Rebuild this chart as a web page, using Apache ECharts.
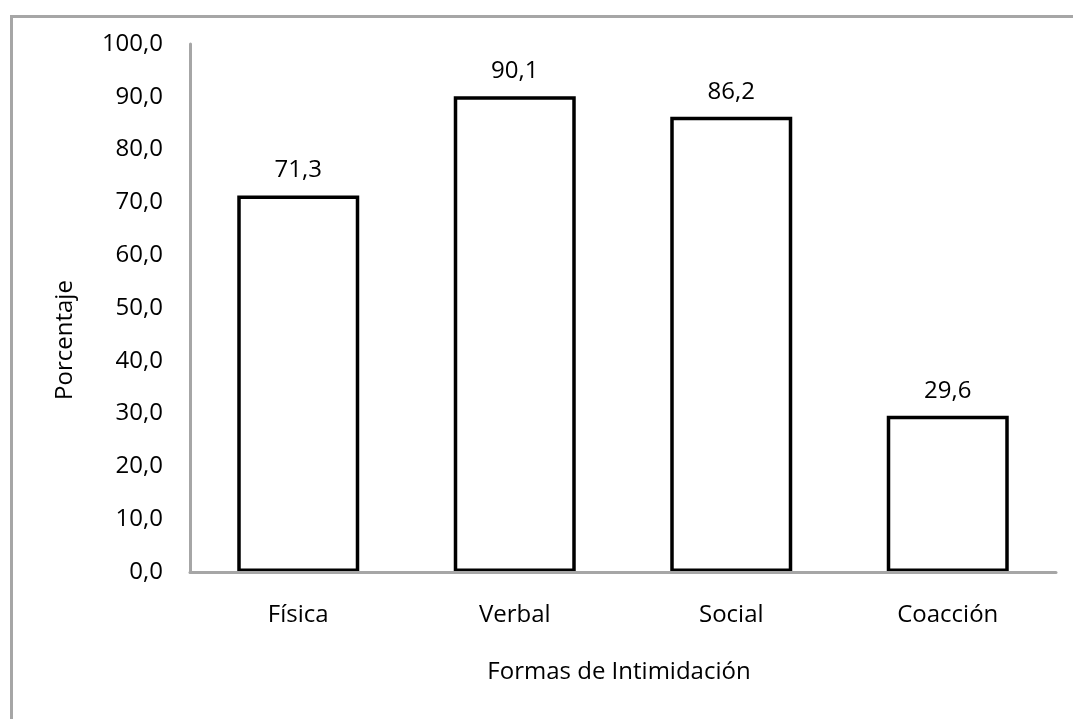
<!DOCTYPE html>
<html>
<head>
<meta charset="utf-8">
<script src="https://cdn.jsdelivr.net/npm/echarts@6/dist/echarts.min.js"></script>
<style>
html,body{margin:0;padding:0;background:#fff;}
#c{width:1073px;height:719px;}
</style>
</head>
<body>
<div id="c"></div>
<script>
const categories = ['Física', 'Verbal', 'Social', 'Coacción'];
const values = [71.3, 90.1, 86.2, 29.6];
const yMin = 0, yMax = 100, yInterval = 10;
const xTitle = 'Formas de Intimidación';
const yTitle = 'Porcentaje';

const fmt = v => v.toFixed(1).replace('.', ',');
const FONT = 'Open Sans';
const FS = 24;
const chart = echarts.init(document.getElementById('c'));
chart.setOption({
  backgroundColor: '#ffffff',
  animation: false,
  textStyle: { fontFamily: FONT },
  grid: { left: 190, right: 17, top: 44, bottom: 147, containLabel: false },
  graphic: [
    { type: 'rect', left: 9, top: 14, shape: { width: 1100, height: 800 },
      style: { fill: 'none', stroke: '#a6a6a6', lineWidth: 3 }, z: 100 },
    { type: 'text', x: 619, y: 672,
      style: { text: xTitle, font: FS + 'px "Open Sans"', fill: '#000', align: 'center', verticalAlign: 'middle' } },
    { type: 'text', x: 65, y: 340, rotation: Math.PI / 2,
      style: { text: yTitle, font: FS + 'px "Open Sans"', fill: '#000', align: 'center', verticalAlign: 'middle' } }
  ],
  xAxis: {
    type: 'category',
    data: categories,
    z: 10,
    axisLine: { lineStyle: { color: '#a6a6a6', width: 3 } },
    axisTick: { show: false },
    axisLabel: { color: '#000', fontSize: FS, fontFamily: FONT, margin: 31 },
    splitLine: { show: false }
  },
  yAxis: {
    type: 'value',
    min: yMin, max: yMax, interval: yInterval,
    axisLine: { show: true, lineStyle: { color: '#a6a6a6', width: 3 } },
    axisTick: { show: false },
    splitLine: { show: false },
    axisLabel: { color: '#000', fontSize: FS, fontFamily: FONT, margin: 27, formatter: v => fmt(v) }
  },
  series: [{
    type: 'bar',
    data: values,
    barWidth: 122,
    itemStyle: { color: '#ffffff', borderColor: '#000000', borderWidth: 3.5 },
    label: { show: true, position: 'top', distance: 13, color: '#000', fontSize: FS, fontFamily: FONT,
      formatter: p => fmt(p.value) }
  }]
});
</script>
</body>
</html>
